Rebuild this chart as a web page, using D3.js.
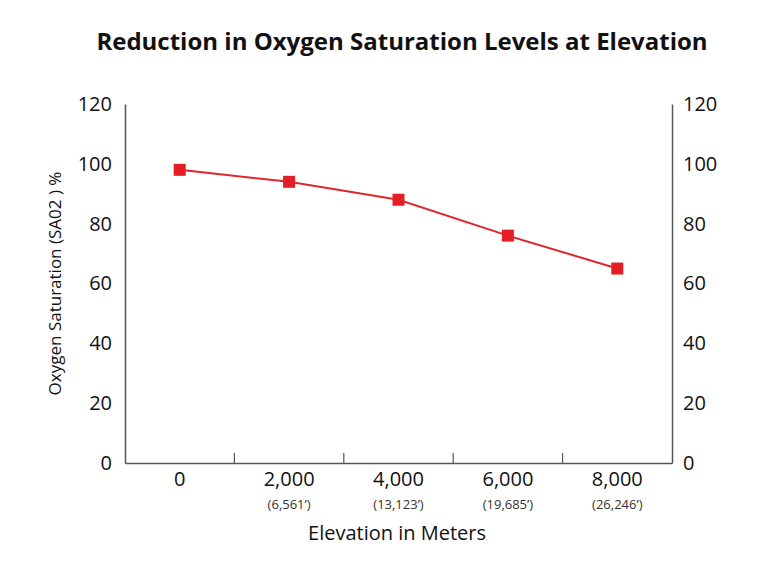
<!DOCTYPE html>
<html>
<head>
<meta charset="utf-8">
<script src="https://cdn.jsdelivr.net/npm/d3@7"></script>
<style>
  body { margin: 0; background: #fff; }
  text { font-family: "Open Sans", sans-serif; fill: #111; }
</style>
</head>
<body>
<div id="chart"></div>
<script>
var elevations = ["0", "2,000", "4,000", "6,000", "8,000"];
var feet = ["", "(6,561\u2019)", "(13,123\u2019)", "(19,685\u2019)", "(26,246\u2019)"];
var saturation = [98, 94, 88, 76, 65];
var yTicks = [0, 20, 40, 60, 80, 100, 120];

var margin = {top: 104, right: 96, bottom: 113, left: 125},
    width = 768 - margin.left - margin.right,
    height = 576 - margin.top - margin.bottom;

var svg = d3.select("#chart").append("svg")
    .attr("width", 768)
    .attr("height", 576);

var g = svg.append("g")
    .attr("transform", "translate(" + margin.left + "," + margin.top + ")");

var x = d3.scaleBand().domain(elevations).range([0, width]);
var y = d3.scaleLinear().domain([0, 120]).range([height, 0]);

// Title
svg.append("text")
    .attr("x", 402).attr("y", 50)
    .attr("text-anchor", "middle")
    .style("font-size", "24px").style("font-weight", "bold")
    .text("Reduction in Oxygen Saturation Levels at Elevation");

// Left axis
var yl = g.append("g")
    .call(d3.axisLeft(y).tickValues(yTicks).tickSize(0).tickPadding(13));
yl.select(".domain").attr("stroke", "#555").attr("stroke-width", 1.5);
yl.selectAll("text").style("font-size", "20px");

// Right axis
var yr = g.append("g")
    .attr("transform", "translate(" + width + ",0)")
    .call(d3.axisRight(y).tickValues(yTicks).tickSize(0).tickPadding(11));
yr.select(".domain").attr("stroke", "#555").attr("stroke-width", 1.5);
yr.selectAll("text").style("font-size", "20px");

// Bottom axis
var xb = g.append("g")
    .attr("transform", "translate(0," + height + ")")
    .call(d3.axisBottom(x).tickSize(0).tickPadding(9));
xb.select(".domain").attr("stroke", "#555").attr("stroke-width", 1.5);
xb.selectAll("text").style("font-size", "20px");

// Category boundary ticks
g.selectAll(".btick").data(elevations.slice(1)).enter().append("line")
    .attr("class", "btick")
    .attr("x1", function(d) { return x(d); })
    .attr("x2", function(d) { return x(d); })
    .attr("y1", height).attr("y2", height - 10)
    .attr("stroke", "#555").attr("stroke-width", 1.2);

// Feet sub-labels
g.selectAll(".feet").data(elevations).enter().append("text")
    .attr("class", "feet")
    .attr("x", function(d) { return x(d) + x.bandwidth() / 2; })
    .attr("y", height + 46)
    .attr("text-anchor", "middle")
    .style("font-size", "13px")
    .style("fill", "#333")
    .text(function(d, i) { return feet[i]; });

// Axis titles
svg.append("text")
    .attr("x", 397).attr("y", 540)
    .attr("text-anchor", "middle")
    .style("font-size", "20px")
    .text("Elevation in Meters");

svg.append("text")
    .attr("transform", "translate(61," + (margin.top + height / 2) + ") rotate(-90)")
    .attr("text-anchor", "middle")
    .style("font-size", "17px")
    .text("Oxygen Saturation (SA02 ) %");

// Line
var line = d3.line()
    .x(function(d, i) { return x(elevations[i]) + x.bandwidth() / 2; })
    .y(function(d) { return y(d); });

g.append("path").datum(saturation)
    .attr("d", line)
    .attr("fill", "none")
    .attr("stroke", "#e0262d")
    .attr("stroke-width", 2);

// Markers
var s = 12;
g.selectAll(".pt").data(saturation).enter().append("rect")
    .attr("class", "pt")
    .attr("x", function(d, i) { return x(elevations[i]) + x.bandwidth() / 2 - s / 2; })
    .attr("y", function(d) { return y(d) - s / 2; })
    .attr("width", s).attr("height", s)
    .attr("fill", "#e31e25");
</script>
</body>
</html>
